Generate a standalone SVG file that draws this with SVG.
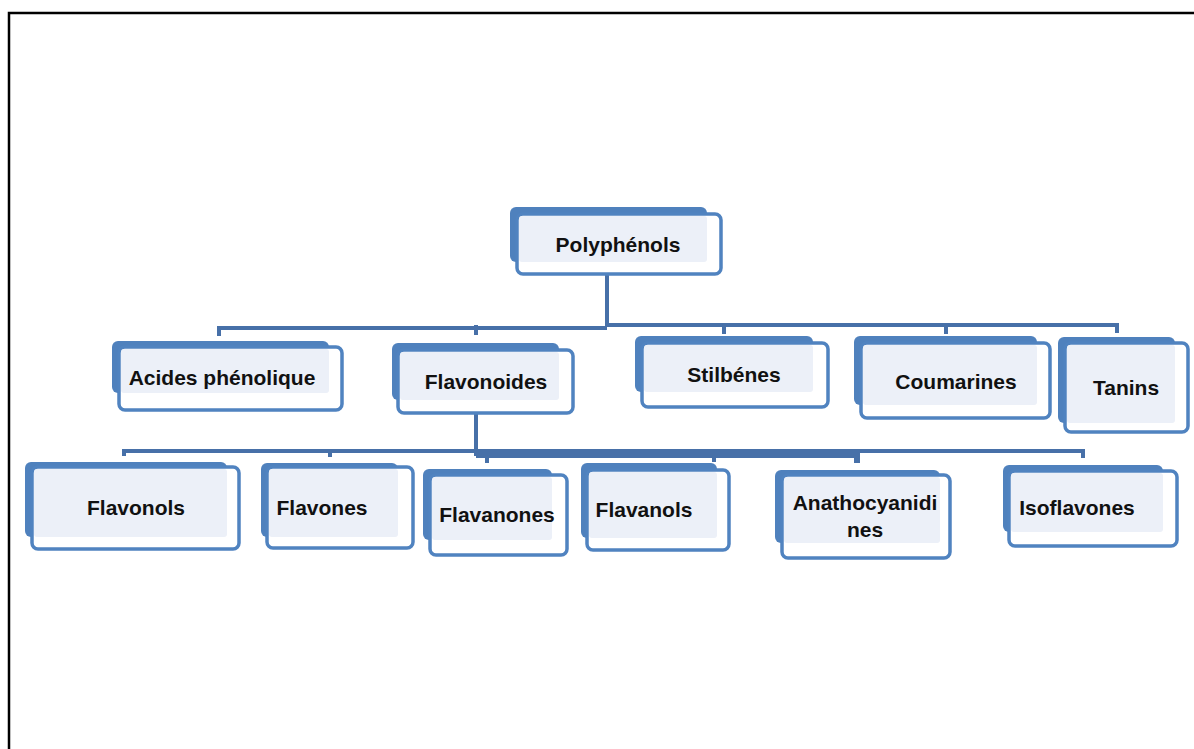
<svg xmlns="http://www.w3.org/2000/svg" width="1194" height="749" viewBox="0 0 1194 749">
<style>
.back{fill:#4f81bd}
.front{fill:#ffffff;stroke:#5083c0;stroke-width:3.5}
.inner{fill:#ecf0f8}
.lbl{font-family:"Liberation Sans",Arial,sans-serif;font-size:21px;font-weight:bold;fill:#111;text-anchor:middle}
.con{stroke:#4770a8;stroke-width:4;fill:none}
</style>
<rect x="0" y="0" width="1194" height="749" fill="#fff"/>
<path d="M9,749 V13 H1194" fill="none" stroke="#000" stroke-width="2.5"/>
<g id="connectors">
<path class="con" d="M607,275 V327"/>
<path class="con" d="M219,336 V328 H607"/>
<path class="con" d="M607,325 H1117 V333"/>
<path class="con" d="M476,325 V335"/>
<path class="con" d="M724,325 V334"/>
<path class="con" d="M946,325 V334"/>
<path class="con" d="M476,413 V456"/>
<path class="con" d="M124,456 V451 H1083 V458"/>
<path class="con" d="M476,455 H857 V463" style="stroke-width:6"/>
<path class="con" d="M330,451 V457"/>
<path class="con" d="M487,455 V463"/>
<path class="con" d="M714,455 V462"/>
</g>
<g id="polyphenols">
<rect class="back" x="510" y="207" width="197" height="55" rx="6"/>
<rect class="front" x="517" y="214" width="204" height="60" rx="6"/>
<rect class="inner" x="519" y="216" width="188" height="46" rx="3"/>
<text class="lbl" x="618" y="245" dy="0.35em">Polyphénols</text>
</g>
<g id="acides">
<rect class="back" x="112" y="341" width="217" height="52" rx="6"/>
<rect class="front" x="119" y="347" width="223" height="63" rx="6"/>
<rect class="inner" x="121" y="349" width="208" height="44" rx="3"/>
<text class="lbl" x="222" y="378" dy="0.35em">Acides phénolique</text>
</g>
<g id="flavonoides">
<rect class="back" x="392" y="343" width="167" height="57" rx="6"/>
<rect class="front" x="398" y="350" width="175" height="63" rx="6"/>
<rect class="inner" x="400" y="352" width="159" height="48" rx="3"/>
<text class="lbl" x="486" y="382" dy="0.35em">Flavonoides</text>
</g>
<g id="stilbenes">
<rect class="back" x="635" y="336" width="178" height="56" rx="6"/>
<rect class="front" x="642" y="343" width="186" height="64" rx="6"/>
<rect class="inner" x="644" y="345" width="169" height="47" rx="3"/>
<text class="lbl" x="734" y="375" dy="0.35em">Stilbénes</text>
</g>
<g id="coumarines">
<rect class="back" x="854" y="336" width="183" height="69" rx="6"/>
<rect class="front" x="861" y="343" width="189" height="75" rx="6"/>
<rect class="inner" x="863" y="345" width="174" height="60" rx="3"/>
<text class="lbl" x="956" y="382" dy="0.35em">Coumarines</text>
</g>
<g id="tanins">
<rect class="back" x="1058" y="337" width="117" height="86" rx="6"/>
<rect class="front" x="1065" y="343" width="123" height="89" rx="6"/>
<rect class="inner" x="1067" y="345" width="108" height="78" rx="3"/>
<text class="lbl" x="1126" y="388" dy="0.35em">Tanins</text>
</g>
<g id="flavonols">
<rect class="back" x="25" y="462" width="202" height="75" rx="6"/>
<rect class="front" x="32" y="467" width="207" height="82" rx="6"/>
<rect class="inner" x="34" y="469" width="193" height="68" rx="3"/>
<text class="lbl" x="136" y="508" dy="0.35em">Flavonols</text>
</g>
<g id="flavones">
<rect class="back" x="261" y="463" width="137" height="74" rx="6"/>
<rect class="front" x="267" y="467" width="146" height="81" rx="6"/>
<rect class="inner" x="269" y="469" width="129" height="68" rx="3"/>
<text class="lbl" x="322" y="508" dy="0.35em">Flavones</text>
</g>
<g id="flavanones">
<rect class="back" x="423" y="469" width="129" height="71" rx="6"/>
<rect class="front" x="430" y="475" width="137" height="80" rx="6"/>
<rect class="inner" x="432" y="477" width="120" height="63" rx="3"/>
<text class="lbl" x="497" y="515" dy="0.35em">Flavanones</text>
</g>
<g id="flavanols">
<rect class="back" x="581" y="463" width="136" height="75" rx="6"/>
<rect class="front" x="587" y="470" width="142" height="80" rx="6"/>
<rect class="inner" x="589" y="472" width="128" height="66" rx="3"/>
<text class="lbl" x="644" y="510" dy="0.35em">Flavanols</text>
</g>
<g id="anathocyanidines">
<rect class="back" x="775" y="470" width="165" height="73" rx="6"/>
<rect class="front" x="782" y="475" width="168" height="83" rx="6"/>
<rect class="inner" x="784" y="477" width="156" height="66" rx="3"/>
<text class="lbl" x="865" y="503" dy="0.35em">Anathocyanidi</text>
<text class="lbl" x="865" y="530" dy="0.35em">nes</text>
</g>
<g id="isoflavones">
<rect class="back" x="1003" y="465" width="160" height="67" rx="6"/>
<rect class="front" x="1009" y="471" width="168" height="75" rx="6"/>
<rect class="inner" x="1011" y="473" width="152" height="59" rx="3"/>
<text class="lbl" x="1077" y="508" dy="0.35em">Isoflavones</text>
</g>
</svg>
